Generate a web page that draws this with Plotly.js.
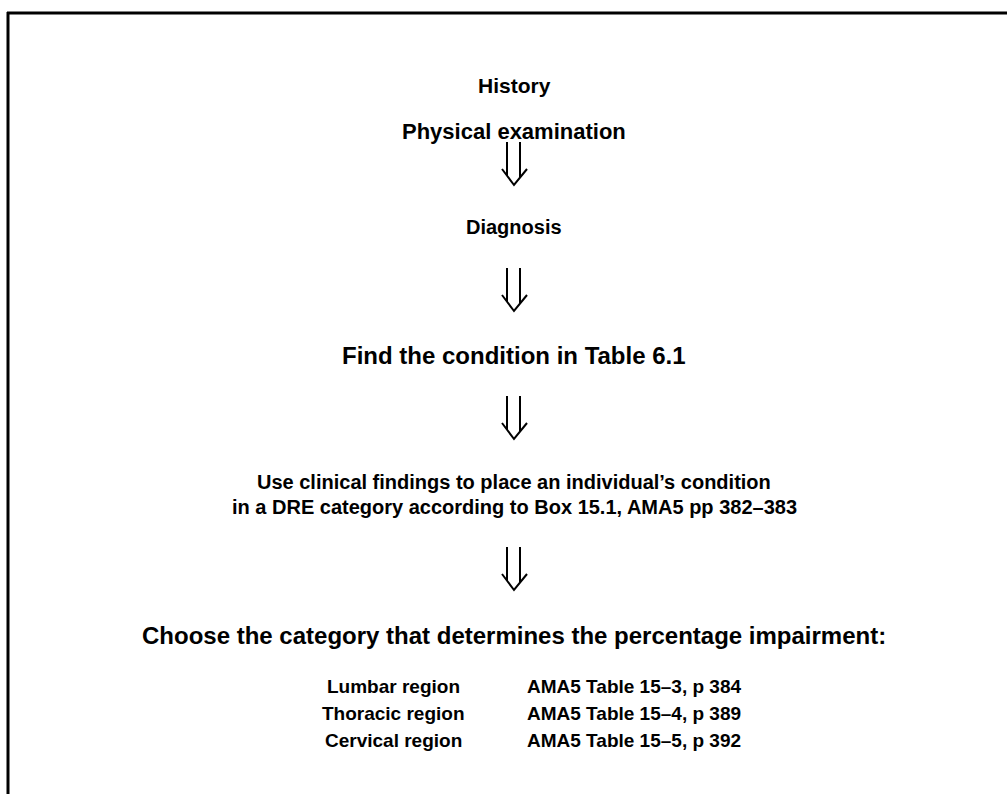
<!DOCTYPE html>
<html>
<head>
<meta charset="utf-8">
<script src="https://cdn.plot.ly/plotly-3.0.1.min.js"></script>
<style>html,body{margin:0;padding:0;background:#fff}#chart{width:1007px;height:794px}</style>
</head>
<body>
<div id="chart"></div>
<script>
// Flowchart content
const steps = [
  "History",
  "Physical examination",
  "Diagnosis",
  "Find the condition in Table 6.1",
  "Use clinical findings to place an individual\u2019s condition",
  "in a DRE category according to Box 15.1, AMA5 pp 382\u2013383",
  "Choose the category that determines the percentage impairment:"
];
const regions = ["Lumbar region", "Thoracic region", "Cervical region"];
const tables = ["AMA5 Table 15\u20133, p 384", "AMA5 Table 15\u20134, p 389", "AMA5 Table 15\u20135, p 392"];

// Layout positions (pixels from top-left) and sizes
const stepY = [85, 131, 227, 355, 482, 507, 635];
const stepSize = [21, 22, 20, 24, 20, 20, 24];
const arrowTop = [142, 268, 396, 547];
const rowY = [686, 713, 740];
const rowSize = 19;
const centerX = 514;
const leftColX = 393;
const rightColX = 634;

const fam = "Liberation Sans, Arial, sans-serif";
const annotations = [];
steps.forEach((t, i) => annotations.push({x: centerX, y: stepY[i], text: "<b>" + t + "</b>", showarrow: false,
  font: {family: fam, size: stepSize[i], color: "#000"}, xanchor: "center", yanchor: "middle"}));
regions.forEach((t, i) => annotations.push({x: leftColX, y: rowY[i], text: "<b>" + t + "</b>", showarrow: false,
  font: {family: fam, size: rowSize, color: "#000"}, xanchor: "center", yanchor: "middle"}));
tables.forEach((t, i) => annotations.push({x: rightColX, y: rowY[i], text: "<b>" + t + "</b>", showarrow: false,
  font: {family: fam, size: rowSize, color: "#000"}, xanchor: "center", yanchor: "middle"}));

// Double down arrows (⇓) drawn as outline paths
const shapes = [
  {type: "line", x0: 7, x1: 1007, y0: 13, y1: 13, line: {color: "#000", width: 3}},
  {type: "line", x0: 8, x1: 8, y0: 12, y1: 794, line: {color: "#000", width: 3}}
];
arrowTop.forEach(t => {
  const c = centerX, b = t + 43;
  shapes.push({type: "path", path: `M ${c-7} ${t} L ${c-7} ${b-9}`, line: {color: "#000", width: 2}});
  shapes.push({type: "path", path: `M ${c+6} ${t} L ${c+6} ${b-8}`, line: {color: "#000", width: 2}});
  shapes.push({type: "path", path: `M ${c-12} ${b-16} L ${c} ${b} L ${c+13} ${b-16}`, line: {color: "#000", width: 2}});
});

const layout = {
  width: 1007, height: 794,
  margin: {l: 0, r: 0, t: 0, b: 0},
  paper_bgcolor: "#fff", plot_bgcolor: "#fff",
  xaxis: {range: [0, 1007], visible: false, fixedrange: true},
  yaxis: {range: [794, 0], visible: false, fixedrange: true},
  showlegend: false,
  annotations: annotations,
  shapes: shapes
};
Plotly.newPlot("chart", [], layout, {staticPlot: true, displayModeBar: false});
</script>
</body>
</html>
